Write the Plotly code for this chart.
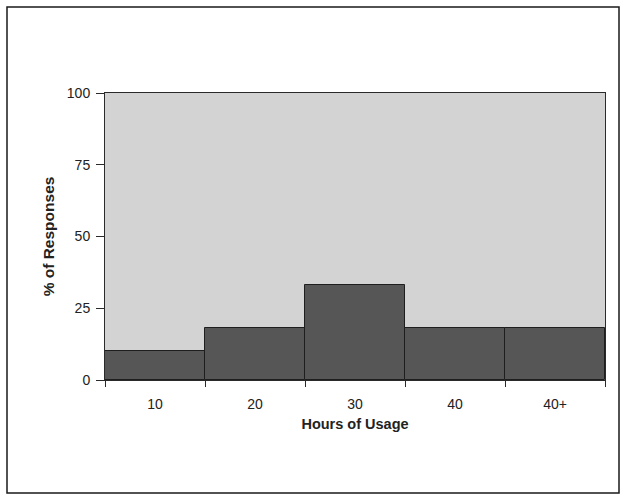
import plotly.graph_objects as go

# Survey results: share of responses per usage bucket
categories = ["10", "20", "30", "40", "40+"]
responses_pct = [10, 18, 33, 18, 18]
y_ticks = [0, 25, 50, 75, 100]

positions = list(range(len(categories)))
bin_edges = [p - 0.5 for p in positions] + [positions[-1] + 0.5]

FONT = "Arial, Liberation Sans, sans-serif"

fig = go.Figure()
fig.add_trace(go.Bar(
    x=positions,
    y=responses_pct,
    width=1.0,
    marker=dict(color="#565656", line=dict(color="#1e1e1e", width=1)),
    hoverinfo="y",
))
# invisible helper trace that carries the bin-edge tick marks
fig.add_trace(go.Scatter(x=bin_edges, y=[0] * len(bin_edges), xaxis="x2",
                         mode="markers", marker=dict(opacity=0), hoverinfo="skip"))

fig.update_layout(
    width=624, height=496,
    margin=dict(l=105, r=19, t=93, b=116),
    paper_bgcolor="white",
    plot_bgcolor="#d3d3d3",
    showlegend=False,
    bargap=0,
    font=dict(family=FONT, size=14, color="#222"),
    xaxis=dict(
        range=[-0.5, 4.5],
        tickmode="array", tickvals=positions, ticktext=categories,
        ticks="outside", ticklen=11, tickcolor="rgba(0,0,0,0)",
        showgrid=False, zeroline=False,
        showline=True, linecolor="#2a2a2a", linewidth=1, mirror=True,
        title=dict(text="<b>Hours of Usage</b>", standoff=8,
                   font=dict(size=14.5, family=FONT)),
    ),
    xaxis2=dict(
        overlaying="x", matches="x", side="bottom",
        tickmode="array", tickvals=bin_edges, showticklabels=False,
        ticks="outside", ticklen=6, tickcolor="#2a2a2a",
        showgrid=False, zeroline=False, showline=False,
    ),
    yaxis=dict(
        range=[0, 100],
        tickmode="array", tickvals=y_ticks,
        ticks="outside", ticklen=8, tickcolor="#2a2a2a",
        ticklabelstandoff=3,
        showgrid=False, zeroline=False,
        showline=True, linecolor="#2a2a2a", linewidth=1, mirror=True,
        title=dict(text="<b>% of Responses</b>", standoff=8,
                   font=dict(size=15.5, family=FONT)),
    ),
)

# outer frame around the whole figure
fig.add_shape(type="rect", xref="paper", yref="paper",
              x0=-98 / 500, x1=514 / 500, y0=-113 / 287, y1=(287 + 86) / 287,
              line=dict(color="#1a1a1a", width=1.5), layer="below")

fig.write_html("out.html")
